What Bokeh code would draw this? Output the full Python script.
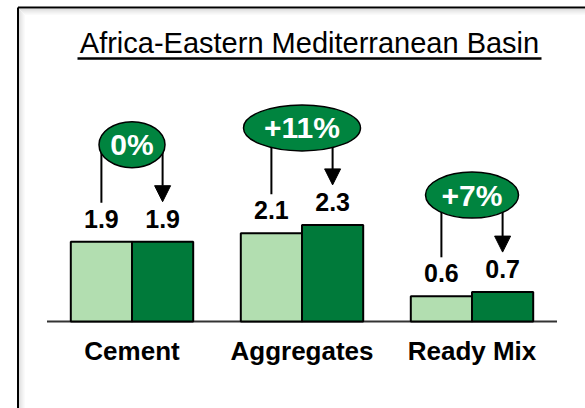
import numpy as np
from bokeh.plotting import figure
from bokeh.models import Range1d, ColumnDataSource, Arrow, NormalHead
from bokeh.core.properties import value
from bokeh.embed import file_html
from bokeh.resources import INLINE

# ---- data ----
categories = ["Cement", "Aggregates", "Ready Mix"]
prior = [1.9, 2.1, 0.6]
current = [1.9, 2.3, 0.7]
changes = ["0%", "+11%", "+7%"]
title_text = "Africa-Eastern Mediterranean Basin"

# ---- layout / style constants ----
W, H = 585, 408
PX_PER_CAT = 170.0
PX_PER_UNIT = 42.0
CAT0_PX = 131.5      # canvas x of first category centre
BASE_PX = 321.0      # canvas y of the zero line
DODGE = 0.18
BAR_W = 0.36
ELL_W = [66, 117, 93]
ELL_H = 46
LIGHT = "#B2DEB0"
DARK = "#007A3A"
ELL_FILL = "#00843F"
FONT = value("Liberation Sans")

x_start = -CAT0_PX / PX_PER_CAT
x_end = x_start + W / PX_PER_CAT
y_end = BASE_PX / PX_PER_UNIT
y_start = -(H - BASE_PX) / PX_PER_UNIT


def sx(px):
    return x_start + px / PX_PER_CAT


def sy(px):
    return y_end - px / PX_PER_UNIT


def u(px):
    return px / PX_PER_UNIT


idx = np.arange(len(categories), dtype=float)
prior_a = np.array(prior)
current_a = np.array(current)
ell_y = np.maximum(prior_a, current_a) + u(97)

p = figure(width=W, height=H, x_range=Range1d(x_start, x_end),
           y_range=Range1d(y_start, y_end), output_backend="svg",
           toolbar_location=None, min_border=0,
           x_axis_location=None, y_axis_location=None)
p.grid.visible = False
p.outline_line_color = None
p.background_fill_color = "white"
p.border_fill_color = "white"

# ---- frame with soft inner shadow ----
shade = [224, 230, 236, 241, 246, 250]
for i, g in enumerate(shade):
    col = "#%02x%02x%02x" % (g, g, g)
    p.segment(x0=[sx(19 + i)], y0=[sy(9 + i)], x1=[sx(19 + i)], y1=[sy(H + 5)],
              line_color=col, line_width=1)
    p.segment(x0=[sx(19 + i)], y0=[sy(9 + i)], x1=[sx(W + 5)], y1=[sy(9 + i)],
              line_color=col, line_width=1)
p.segment(x0=[sx(17.5)], y0=[sy(7)], x1=[sx(17.5)], y1=[sy(H + 5)],
          line_color="black", line_width=2)
p.segment(x0=[sx(17.5)], y0=[sy(7)], x1=[sx(W + 5)], y1=[sy(7)],
          line_color="black", line_width=2)

# ---- title ----
p.text(x=[sx(309)], y=[sy(42.5)], text=[title_text], text_align="center",
       text_baseline="middle", text_font=FONT, text_font_size="29px",
       text_color="black")
p.segment(x0=[sx(77)], y0=[sy(58)], x1=[sx(541)], y1=[sy(58)],
          line_color="black", line_width=2.5)

# ---- baseline ----
p.segment(x0=[-0.5], y0=[0], x1=[len(categories) - 0.5], y1=[0],
          line_color="#333333", line_width=2)

# ---- bars ----
src_prior = ColumnDataSource(dict(x=idx - DODGE, top=prior_a,
                                  lab=["%.1f" % v for v in prior]))
src_cur = ColumnDataSource(dict(x=idx + DODGE, top=current_a,
                                lab=["%.1f" % v for v in current]))
p.vbar(x="x", top="top", bottom=0, width=BAR_W, source=src_prior,
       fill_color=LIGHT, line_color="black", line_width=2)
p.vbar(x="x", top="top", bottom=0, width=BAR_W, source=src_cur,
       fill_color=DARK, line_color="black", line_width=2)

for s in (src_prior, src_cur):
    p.text(x="x", y="top", text="lab", source=s, text_align="center",
           text_baseline="middle", y_offset=-23, text_font=FONT,
           text_font_size="25px", text_font_style="bold", text_color="black")

# ---- change connectors (drawn beneath the ellipses) ----
p.segment(x0=idx - DODGE, y0=ell_y, x1=idx - DODGE, y1=prior_a + u(39),
          line_color="black", line_width=2)
arr_src = ColumnDataSource(dict(x=idx + DODGE, y0=ell_y, y1=current_a + u(40)))
p.add_layout(Arrow(x_start="x", y_start="y0", x_end="x", y_end="y1",
                   source=arr_src, line_color="black", line_width=2,
                   level="underlay",
                   end=NormalHead(size=16, fill_color="black",
                                  line_color="black", line_width=1)))

ell_src = ColumnDataSource(dict(x=idx, y=ell_y, w=ELL_W, t=changes))
p.ellipse(x="x", y="y", width="w", height=ELL_H, width_units="screen",
          height_units="screen", source=ell_src, fill_color=ELL_FILL,
          line_color="black", line_width=1.5)
p.text(x="x", y="y", text="t", source=ell_src, text_align="center",
       text_baseline="middle", text_font=FONT, text_font_size="30px",
       text_font_style="bold", text_color="white")

# ---- category labels ----
p.text(x=idx, y=np.zeros(len(categories)), text=categories,
       text_align="center", text_baseline="middle", y_offset=29,
       text_font=FONT, text_font_size="26px", text_font_style="bold",
       text_color="black")

open("out.html", "w").write(file_html(p, INLINE))
